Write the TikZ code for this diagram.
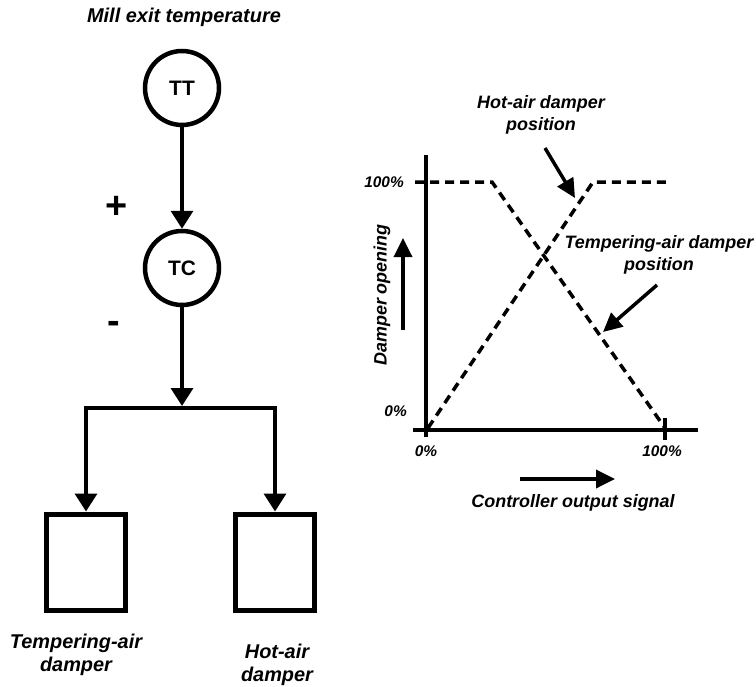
\documentclass[tikz,border=0pt]{standalone}
\usepackage{fontspec}
\setmainfont{Liberation Sans}
\usetikzlibrary{arrows.meta}
\begin{document}
\begin{tikzpicture}[x=1bp,y=-1bp,
  lbl/.style={font=\fontsize{18}{22.5}\selectfont\bfseries\itshape, align=center, inner sep=0pt},
  biglbl/.style={font=\fontsize{20}{22.5}\selectfont\bfseries\itshape, align=center, inner sep=0pt},
  pct/.style={font=\fontsize{15.5}{18}\selectfont\bfseries\itshape, inner sep=0pt},
  sgn/.style={font=\fontsize{38}{38}\selectfont\bfseries, inner sep=0pt},
  inst/.style={circle, draw, line width=4.5bp, minimum size=74bp, inner sep=0pt, font=\fontsize{21}{24}\selectfont\bfseries},
  damperbox/.style={draw, line width=5bp, minimum width=79bp, minimum height=96bp, inner sep=0pt},
  sig/.style={line width=3.5bp, -{Triangle[width=22bp,length=18bp]}},
  ptr/.style={line width=3.5bp, -{Triangle[width=18bp,length=19bp]}},
  curve/.style={line width=3.5bp, dash pattern=on 9bp off 6bp},
  axis/.style={line width=3.5bp}]
\useasboundingbox (0,0) rectangle (756,687);

% ---- control loop ----
\node[biglbl] (title) at (184,17) {Mill exit temperature};
\node[inst] (TT) at (182,88) {TT};
\node[inst] (TC) at (182,268) {TC};
\node[sgn] (plus) at (117,207) {+};
\node[sgn] (minus) at (114,327) {-};
\coordinate (jtop) at (182,406);
\coordinate (jc) at (182,408);
\node[damperbox] (boxL) at (86,562) {};
\node[damperbox] (boxR) at (275,562) {};
\draw[sig] (TT) -- (TC);
\draw[sig] (TC) -- (jtop);
\draw[sig] (jc) -| (boxL.north);
\draw[sig] (jc) -| (boxR.north);
\node[biglbl] (tlab) at (76,655) {Tempering-air\\damper};
\node[biglbl] (hlab) at (277,665) {Hot-air\\damper};

% ---- chart ----
\draw[axis] (426,155) -- (426,437);
\draw[axis] (413,430) -- (698,430);
\draw[axis] (665,418) -- (665,440);
\draw[curve] (415,182) -- (492,182) -- (665,428);
\draw[curve] (428,428) -- (593,182) -- (668,182);
\node[pct, anchor=east] (y100) at (404,182) {100\%};
\node[pct, anchor=east] (y0) at (407,411) {0\%};
\node[pct] (x0) at (426,451) {0\%};
\node[pct] (x100) at (662,451) {100\%};
\node[lbl, rotate=90] (ylab) at (382,295) {Damper opening};
\coordinate (ya1) at (403,330); \coordinate (ya2) at (403,238);
\draw[ptr] (ya1) -- (ya2);
\coordinate (xa1) at (520,479); \coordinate (xa2) at (615,479);
\draw[ptr] (xa1) -- (xa2);
\node[lbl] (xlab) at (573,503) {Controller output signal};
\node[lbl] (hotlab) at (541,115) {Hot-air damper\\position};
\coordinate (hp1) at (545,148); \coordinate (hp2) at (575,198);
\draw[ptr] (hp1) -- (hp2);
\node[lbl] (templab) at (659,255) {Tempering-air damper\\position};
\coordinate (tp1) at (657,285); \coordinate (tp2) at (603,332);
\draw[ptr] (tp1) -- (tp2);
\end{tikzpicture}
\end{document}
